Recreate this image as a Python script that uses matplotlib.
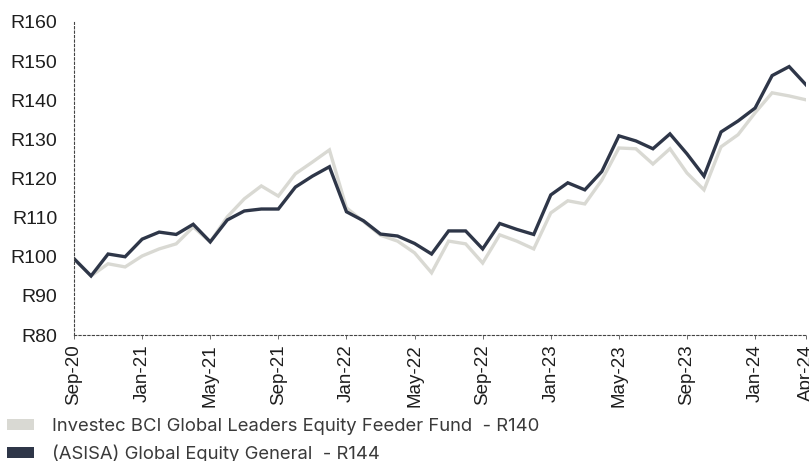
import matplotlib.pyplot as plt
from matplotlib.patches import Patch

# Monthly series, Sep-20 .. Apr-24
months = ['Sep-20', 'Oct-20', 'Nov-20', 'Dec-20', 'Jan-21', 'Feb-21', 'Mar-21', 'Apr-21',
          'May-21', 'Jun-21', 'Jul-21', 'Aug-21', 'Sep-21', 'Oct-21', 'Nov-21', 'Dec-21',
          'Jan-22', 'Feb-22', 'Mar-22', 'Apr-22', 'May-22', 'Jun-22', 'Jul-22', 'Aug-22',
          'Sep-22', 'Oct-22', 'Nov-22', 'Dec-22', 'Jan-23', 'Feb-23', 'Mar-23', 'Apr-23',
          'May-23', 'Jun-23', 'Jul-23', 'Aug-23', 'Sep-23', 'Oct-23', 'Nov-23', 'Dec-23',
          'Jan-24', 'Feb-24', 'Mar-24', 'Apr-24']

fund = [99.5, 95.1, 98.2, 97.4, 100.2, 102.0, 103.3, 107.6,
        103.8, 110.2, 114.8, 118.1, 115.5, 121.2, 124.2, 127.3,
        112.5, 109.0, 105.5, 104.0, 101.0, 95.9, 104.0, 103.3,
        98.4, 105.6, 104.0, 102.0, 111.2, 114.3, 113.5, 119.6,
        127.8, 127.6, 123.7, 127.6, 121.4, 117.1, 128.1, 131.2,
        136.8, 141.9, 141.1, 140.1]

sector = [99.5, 95.1, 100.7, 100.0, 104.5, 106.3, 105.7, 108.3,
          103.8, 109.4, 111.7, 112.2, 112.2, 117.8, 120.6, 123.0,
          111.5, 109.2, 105.8, 105.3, 103.4, 100.7, 106.6, 106.6,
          102.0, 108.5, 107.0, 105.7, 115.8, 118.9, 117.1, 121.8,
          130.9, 129.6, 127.6, 131.4, 126.3, 120.6, 131.9, 134.7,
          138.0, 146.3, 148.6, 143.9]

tick_labels = ['Sep-20', 'Jan-21', 'May-21', 'Sep-21', 'Jan-22', 'May-22',
               'Sep-22', 'Jan-23', 'May-23', 'Sep-23', 'Jan-24', 'Apr-24']
y_ticks = [80, 90, 100, 110, 120, 130, 140, 150, 160]

fund_label = 'Investec BCI Global Leaders Equity Feeder Fund  - R140'
sector_label = '(ASISA) Global Equity General  - R144'

light = '#d9d9d3'
dark = '#2e3648'

fig = plt.figure(figsize=(8.09, 4.61), dpi=100)
ax = fig.add_axes([0.0915, 0.2733, 0.905, 0.679])

x = list(range(len(months)))
ax.plot(x, fund, color=light, lw=2.4, solid_joinstyle='miter')
ax.plot(x, sector, color=dark, lw=2.4, solid_joinstyle='miter')

ax.set_xlim(0, len(months) - 1)
ax.set_ylim(80, 160)

tick_pos = [months.index(m) for m in tick_labels]
ax.set_xticks(tick_pos)
ax.set_xticklabels(tick_labels, rotation=90, fontsize=13.5, family='Liberation Sans',
                   color='#1e1e1e')
ax.set_yticks(y_ticks)
ax.set_yticklabels([f'R{v}' for v in y_ticks], fontsize=14, family='Liberation Sans',
                   color='#1e1e1e')
ax.tick_params(axis='x', length=3, width=0.6, color='#555555', pad=4)
ax.tick_params(axis='y', length=0, pad=12)

for side in ['top', 'right']:
    ax.spines[side].set_visible(False)
for side in ['left', 'bottom']:
    ax.spines[side].set_linestyle((0, (2, 2)))
    ax.spines[side].set_linewidth(0.8)
    ax.spines[side].set_color('#444444')

handles = [Patch(facecolor=light, edgecolor='none'), Patch(facecolor=dark, edgecolor='none')]
leg = fig.legend(handles, [fund_label, sector_label], loc='upper left',
                 bbox_to_anchor=(0.0, 0.11), frameon=False,
                 prop={'family': 'Inter', 'size': 13.3}, handlelength=1.45, handleheight=0.55,
                 handletextpad=0.95, labelspacing=0.55, borderaxespad=0.2, borderpad=0.2)
for t in leg.get_texts():
    t.set_color('#3a3a3a')

fig.savefig('out.png', dpi=100)
